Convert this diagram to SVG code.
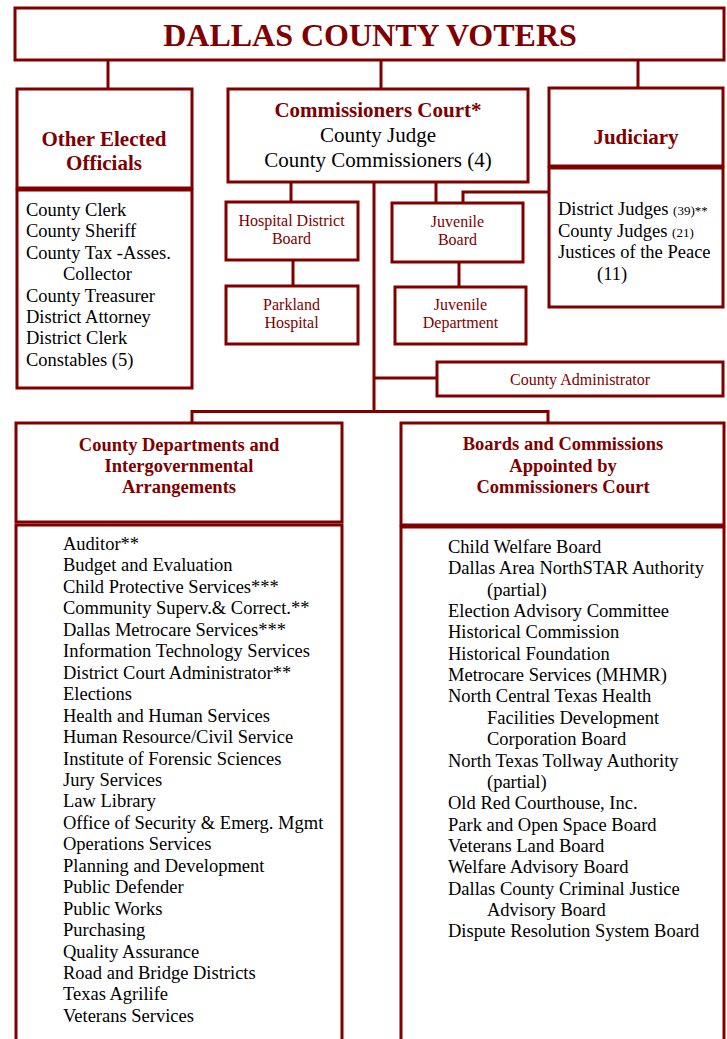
<svg xmlns="http://www.w3.org/2000/svg" width="727" height="1039" viewBox="0 0 727 1039">
<style>
rect{fill:#fff;stroke:#800000;stroke-width:3}
.c line,.c polyline{stroke:#800000;stroke-width:3;fill:none}
text{font-family:"Liberation Serif","Times New Roman",serif}
.h{fill:#800000;font-weight:bold;text-anchor:middle}
.r{fill:#800000;font-size:16px;text-anchor:middle}
.b{fill:#000;font-size:18.5px}
.m{fill:#000;font-size:21px;text-anchor:middle}
.s{font-size:13px}
</style>
<rect width="727" height="1039" style="fill:#fff;stroke:none"/>
<g class="c" id="connectors">
<line x1="108" y1="60" x2="108" y2="89"/>
<line x1="381" y1="60" x2="381" y2="89"/>
<line x1="638" y1="60" x2="638" y2="88"/>
<line x1="291" y1="182" x2="291" y2="202"/>
<line x1="293" y1="260" x2="293" y2="286"/>
<line x1="436" y1="182" x2="436" y2="203"/>
<polyline points="549,192 463,192 463,203"/>
<line x1="459" y1="262" x2="459" y2="287"/>
<line x1="374" y1="182" x2="374" y2="412"/>
<line x1="374" y1="378" x2="437" y2="378"/>
<polyline points="192,423 192,411.5 548,411.5 548,423"/>
</g>
<g id="voters">
<rect x="15" y="8" width="709" height="52"/>
<text class="h" x="370" y="46" font-size="32">DALLAS COUNTY VOTERS</text>
</g>
<g id="other-elected">
<rect x="17" y="89" width="175" height="99"/>
<text class="h" x="104" y="146" font-size="21">Other Elected</text>
<text class="h" x="104" y="170" font-size="21">Officials</text>
<rect x="17" y="190" width="175" height="198"/>
<text class="b" x="26" y="216">County Clerk</text>
<text class="b" x="26" y="237.4">County Sheriff</text>
<text class="b" x="26" y="258.8">County Tax -Asses.</text>
<text class="b" x="63" y="280.2">Collector</text>
<text class="b" x="26" y="301.6">County Treasurer</text>
<text class="b" x="26" y="323">District Attorney</text>
<text class="b" x="26" y="344.4">District Clerk</text>
<text class="b" x="26" y="365.8">Constables (5)</text>
</g>
<g id="commissioners-court">
<rect x="228" y="89" width="300" height="93"/>
<text class="h" x="378" y="117" font-size="21">Commissioners Court*</text>
<text class="m" x="378" y="142">County Judge</text>
<text class="m" x="378" y="167">County Commissioners (4)</text>
</g>
<g id="judiciary">
<rect x="549" y="88" width="174" height="78"/>
<text class="h" x="636" y="144" font-size="21">Judiciary</text>
<rect x="549" y="168" width="174" height="139"/>
<text class="b" x="558" y="215">District Judges <tspan class="s">(39)**</tspan></text>
<text class="b" x="558" y="237">County Judges <tspan class="s">(21)</tspan></text>
<text class="b" x="558" y="258">Justices of the Peace</text>
<text class="b" x="597" y="280">(11)</text>
</g>
<g id="hospital-district-board">
<rect x="226" y="202" width="132" height="58"/>
<text class="r" x="291.5" y="226">Hospital District</text>
<text class="r" x="291.5" y="244">Board</text>
</g>
<g id="parkland-hospital">
<rect x="226" y="286" width="132" height="58"/>
<text class="r" x="291.5" y="310">Parkland</text>
<text class="r" x="291.5" y="328">Hospital</text>
</g>
<g id="juvenile-board">
<rect x="392" y="203" width="131" height="59"/>
<text class="r" x="457.5" y="227">Juvenile</text>
<text class="r" x="457.5" y="245">Board</text>
</g>
<g id="juvenile-department">
<rect x="395" y="287" width="131" height="57"/>
<text class="r" x="460.5" y="310">Juvenile</text>
<text class="r" x="460.5" y="328">Department</text>
</g>
<g id="county-administrator">
<rect x="437" y="362" width="286" height="34"/>
<text class="r" x="580" y="385">County Administrator</text>
</g>
<g id="county-departments">
<rect x="16" y="423" width="326" height="99"/>
<text class="h" x="179" y="451" font-size="18.5">County Departments and</text>
<text class="h" x="179" y="472" font-size="18.5">Intergovernmental</text>
<text class="h" x="179" y="493" font-size="18.5">Arrangements</text>
<rect x="16" y="525" width="326" height="530"/>
<text class="b" x="63" y="550">Auditor**</text>
<text class="b" x="63" y="571.45">Budget and Evaluation</text>
<text class="b" x="63" y="592.9">Child Protective Services***</text>
<text class="b" x="63" y="614.35">Community Superv.&amp; Correct.**</text>
<text class="b" x="63" y="635.8">Dallas Metrocare Services***</text>
<text class="b" x="63" y="657.25">Information Technology Services</text>
<text class="b" x="63" y="678.7">District Court Administrator**</text>
<text class="b" x="63" y="700.15">Elections</text>
<text class="b" x="63" y="721.6">Health and Human Services</text>
<text class="b" x="63" y="743.05">Human Resource/Civil Service</text>
<text class="b" x="63" y="764.5">Institute of Forensic Sciences</text>
<text class="b" x="63" y="785.95">Jury Services</text>
<text class="b" x="63" y="807.4">Law Library</text>
<text class="b" x="63" y="828.85">Office of Security &amp; Emerg. Mgmt</text>
<text class="b" x="63" y="850.3">Operations Services</text>
<text class="b" x="63" y="871.75">Planning and Development</text>
<text class="b" x="63" y="893.2">Public Defender</text>
<text class="b" x="63" y="914.65">Public Works</text>
<text class="b" x="63" y="936.1">Purchasing</text>
<text class="b" x="63" y="957.55">Quality Assurance</text>
<text class="b" x="63" y="979">Road and Bridge Districts</text>
<text class="b" x="63" y="1000.45">Texas Agrilife</text>
<text class="b" x="63" y="1021.9">Veterans Services</text>
</g>
<g id="boards-and-commissions">
<rect x="401" y="423" width="323" height="102"/>
<text class="h" x="563" y="450" font-size="18.5">Boards and Commissions</text>
<text class="h" x="563" y="472" font-size="18.5">Appointed by</text>
<text class="h" x="563" y="493" font-size="18.5">Commissioners Court</text>
<rect x="401" y="527" width="323" height="530"/>
<text class="b" x="448" y="553">Child Welfare Board</text>
<text class="b" x="448" y="574.35">Dallas Area NorthSTAR Authority</text>
<text class="b" x="487" y="595.7">(partial)</text>
<text class="b" x="448" y="617.05">Election Advisory Committee</text>
<text class="b" x="448" y="638.4">Historical Commission</text>
<text class="b" x="448" y="659.75">Historical Foundation</text>
<text class="b" x="448" y="681.1">Metrocare Services (MHMR)</text>
<text class="b" x="448" y="702.45">North Central Texas Health</text>
<text class="b" x="487" y="723.8">Facilities Development</text>
<text class="b" x="487" y="745.15">Corporation Board</text>
<text class="b" x="448" y="766.5">North Texas Tollway Authority</text>
<text class="b" x="487" y="787.85">(partial)</text>
<text class="b" x="448" y="809.2">Old Red Courthouse, Inc.</text>
<text class="b" x="448" y="830.55">Park and Open Space Board</text>
<text class="b" x="448" y="851.9">Veterans Land Board</text>
<text class="b" x="448" y="873.25">Welfare Advisory Board</text>
<text class="b" x="448" y="894.6">Dallas County Criminal Justice</text>
<text class="b" x="487" y="915.95">Advisory Board</text>
<text class="b" x="448" y="937.3">Dispute Resolution System Board</text>
</g>
</svg>
